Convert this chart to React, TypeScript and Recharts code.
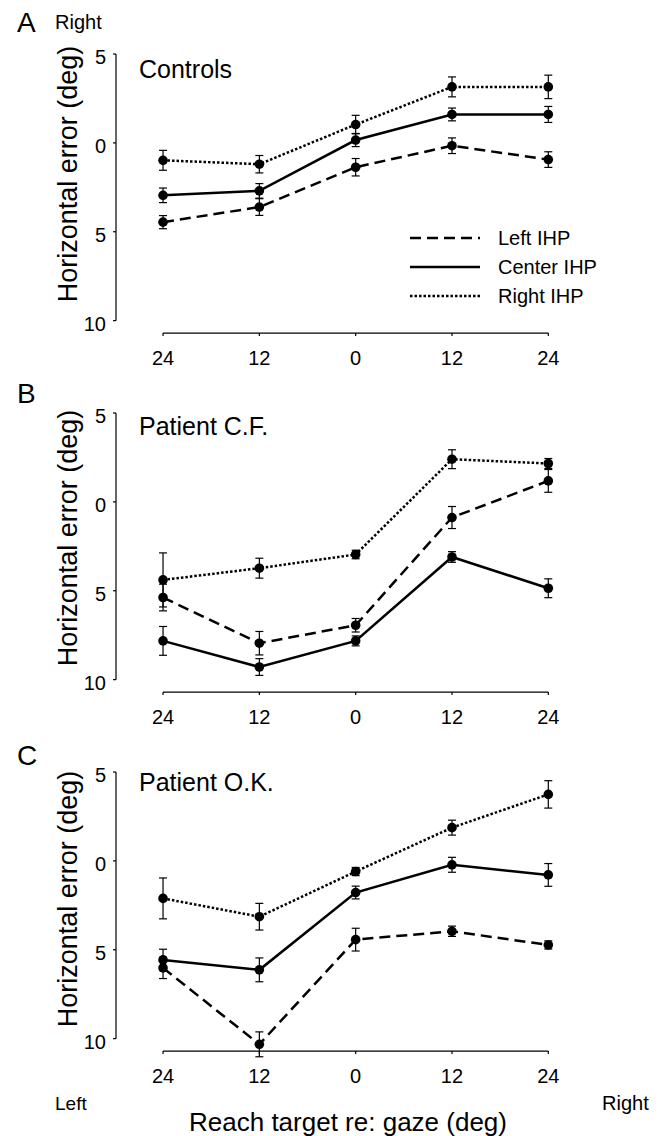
import React from 'react';
import { LineChart, Line, XAxis, YAxis, ErrorBar, ReferenceLine, Legend } from 'recharts';

// reach target positions (negative = left of gaze)
const targets = [-24, -12, 0, 12, 24];
const yTicks = [5, 0, -5, -10];

// series names and line styles
const seriesNames = ['Left IHP', 'Center IHP', 'Right IHP'];
const seriesKeys = ['left', 'center', 'right'];
const seriesDash = ['11 6', '', '2.5 2'];

// A: Controls  (positive = rightward error)
const ctrlLeft = [-4.46, -3.61, -1.37, -0.16, -0.94];
const ctrlLeftErr = [0.37, 0.47, 0.49, 0.44, 0.44];
const ctrlCenter = [-2.95, -2.7, 0.16, 1.6, 1.6];
const ctrlCenterErr = [0.41, 0.41, 0.37, 0.36, 0.45];
const ctrlRight = [-0.98, -1.2, 1.03, 3.15, 3.15];
const ctrlRightErr = [0.56, 0.49, 0.52, 0.56, 0.66];

// B: Patient C.F.
const cfLeft = [-5.38, -7.95, -6.94, -0.88, 1.18];
const cfLeftErr = [0.75, 0.66, 0.38, 0.62, 0.64];
const cfCenter = [-7.82, -9.29, -7.82, -3.1, -4.86];
const cfCenterErr = [0.81, 0.47, 0.28, 0.3, 0.53];
const cfRight = [-4.39, -3.73, -2.96, 2.4, 2.16];
const cfRightErr = [1.52, 0.56, 0.24, 0.53, 0.28];

// C: Patient O.K.
const okLeft = [-6.02, -10.32, -4.43, -3.96, -4.73];
const okLeftErr = [0.6, 0.7, 0.64, 0.29, 0.23];
const okCenter = [-5.57, -6.13, -1.78, -0.22, -0.79];
const okCenterErr = [0.6, 0.67, 0.36, 0.42, 0.64];
const okRight = [-2.11, -3.14, -0.6, 1.87, 3.74];
const okRightErr = [1.15, 0.75, 0.23, 0.42, 0.77];

const FONT = '"Liberation Sans", Arial, Helvetica, sans-serif';
const X_MIN = -29.86;
const X_MAX = 24;
const Y_MIN = -11.5;
const Y_MAX = 5;
const X_LINE = -10.7;

const buildRows = (
  left: number[], leftErr: number[],
  center: number[], centerErr: number[],
  right: number[], rightErr: number[]
) =>
  targets.map((x, i) => ({
    x,
    left: left[i], leftErr: leftErr[i],
    center: center[i], centerErr: centerErr[i],
    right: right[i], rightErr: rightErr[i],
  }));

const panels = [
  { top: 0, rows: buildRows(ctrlLeft, ctrlLeftErr, ctrlCenter, ctrlCenterErr, ctrlRight, ctrlRightErr), legend: true },
  { top: 358.7, rows: buildRows(cfLeft, cfLeftErr, cfCenter, cfCenterErr, cfRight, cfRightErr), legend: false },
  { top: 717.7, rows: buildRows(okLeft, okLeftErr, okCenter, okCenterErr, okRight, okRightErr), legend: false },
];

const XTick = (props: any) => {
  const { x, y, payload } = props;
  return (
    <text x={x} y={y} dy={17.9} textAnchor="middle" fontSize={20} fontFamily={FONT} fill="#000">
      {Math.abs(payload.value)}
    </text>
  );
};

const YTick = (props: any) => {
  const { x, y, payload } = props;
  return (
    <text x={x} y={y} dy={10} textAnchor="end" fontSize={20} fontFamily={FONT} fill="#000">
      {Math.abs(payload.value)}
    </text>
  );
};

const LegendBox = () => (
  <div style={{ fontFamily: FONT, fontSize: 20, color: '#000' }}>
    {seriesNames.map((name, i) => (
      <div key={name} style={{ display: 'flex', alignItems: 'center', height: 29 }}>
        <svg width={72} height={10}>
          <line x1={1} x2={71} y1={5} y2={5} stroke="#000" strokeWidth={2.5}
            strokeDasharray={seriesDash[i] || undefined} />
        </svg>
        <span style={{ marginLeft: 17, lineHeight: '20px' }}>{name}</span>
      </div>
    ))}
  </div>
);

const Panel = ({ top, rows, legend }: { top: number; rows: any[]; legend: boolean }) => (
  <div style={{ position: 'absolute', left: 0, top }}>
    <LineChart width={667} height={378} data={rows}
      margin={{ top: 54, right: 118.7, bottom: 0, left: 56 }}>
      <XAxis type="number" dataKey="x" domain={[X_MIN, X_MAX]} ticks={targets} interval={0}
        axisLine={false} tickLine={false} tickSize={0} tickMargin={0} height={30.7} tick={<XTick />} />
      <YAxis type="number" domain={[Y_MIN, Y_MAX]} ticks={yTicks} interval={0} width={60}
        axisLine={false} tickLine={{ stroke: '#000', strokeWidth: 1.2 }} tickSize={3} tickMargin={7}
        tick={<YTick />} />
      {/* detached axes, drawn through the chart scales */}
      <ReferenceLine segment={[{ x: X_MIN, y: Y_MAX }, { x: X_MIN, y: -10 }]} stroke="#000" strokeWidth={1.2} />
      <ReferenceLine segment={[{ x: targets[0], y: X_LINE }, { x: targets[4], y: X_LINE }]} stroke="#000" strokeWidth={1.2} />
      {targets.map((t) => (
        <ReferenceLine key={'tk' + t} segment={[{ x: t, y: X_LINE }, { x: t, y: X_LINE - 0.16 }]}
          stroke="#000" strokeWidth={1.2} />
      ))}
      {seriesKeys.map((key, i) => (
        <Line key={key} type="linear" dataKey={key} name={seriesNames[i]} stroke="#000" strokeWidth={2.5}
          strokeDasharray={seriesDash[i] || undefined}
          dot={{ r: 4.8, fill: '#000', stroke: '#000', strokeWidth: 0 }}
          isAnimationActive={false}>
          <ErrorBar dataKey={key + 'Err'} direction="y" width={4} stroke="#000" strokeWidth={1.2} />
        </Line>
      ))}
      {legend && (
        <Legend layout="vertical" align="center" verticalAlign="middle" content={<LegendBox />}
          wrapperStyle={{ top: 223, left: 409, width: 200 }} />
      )}
    </LineChart>
  </div>
);

const panelLetters = ['A', 'B', 'C'];
const panelTitles = ['Controls', 'Patient C.F.', 'Patient O.K.'];
const letterBaselines = [32, 403, 765];
const titleBaselines = [78, 435, 791];
const yTitleCenters = [174, 538, 899];

export default function App() {
  return (
    <div style={{ position: 'absolute', left: 0, top: 0, width: 667, height: 1136, background: '#fff' }}>
      {panels.map((p, i) => (
        <Panel key={i} top={p.top} rows={p.rows} legend={p.legend} />
      ))}
      <svg width={667} height={1136} style={{ position: 'absolute', left: 0, top: 0, pointerEvents: 'none' }}
        fontFamily={FONT} fill="#000">
        {panelLetters.map((l, i) => (
          <text key={l} x={17} y={letterBaselines[i]} fontSize={28}>{l}</text>
        ))}
        <text x={55} y={29} fontSize={20}>Right</text>
        {panelTitles.map((t, i) => (
          <text key={t} x={139} y={titleBaselines[i]} fontSize={25}>{t}</text>
        ))}
        {yTitleCenters.map((c, i) => (
          <text key={i} transform={`translate(77, ${c}) rotate(-90)`} textAnchor="middle" fontSize={27}>
            Horizontal error (deg)
          </text>
        ))}
        <text x={55} y={1110} fontSize={19}>Left</text>
        <text x={602} y={1110} fontSize={20}>Right</text>
        <text x={348} y={1131} textAnchor="middle" fontSize={26}>Reach target re: gaze (deg)</text>
      </svg>
    </div>
  );
}
